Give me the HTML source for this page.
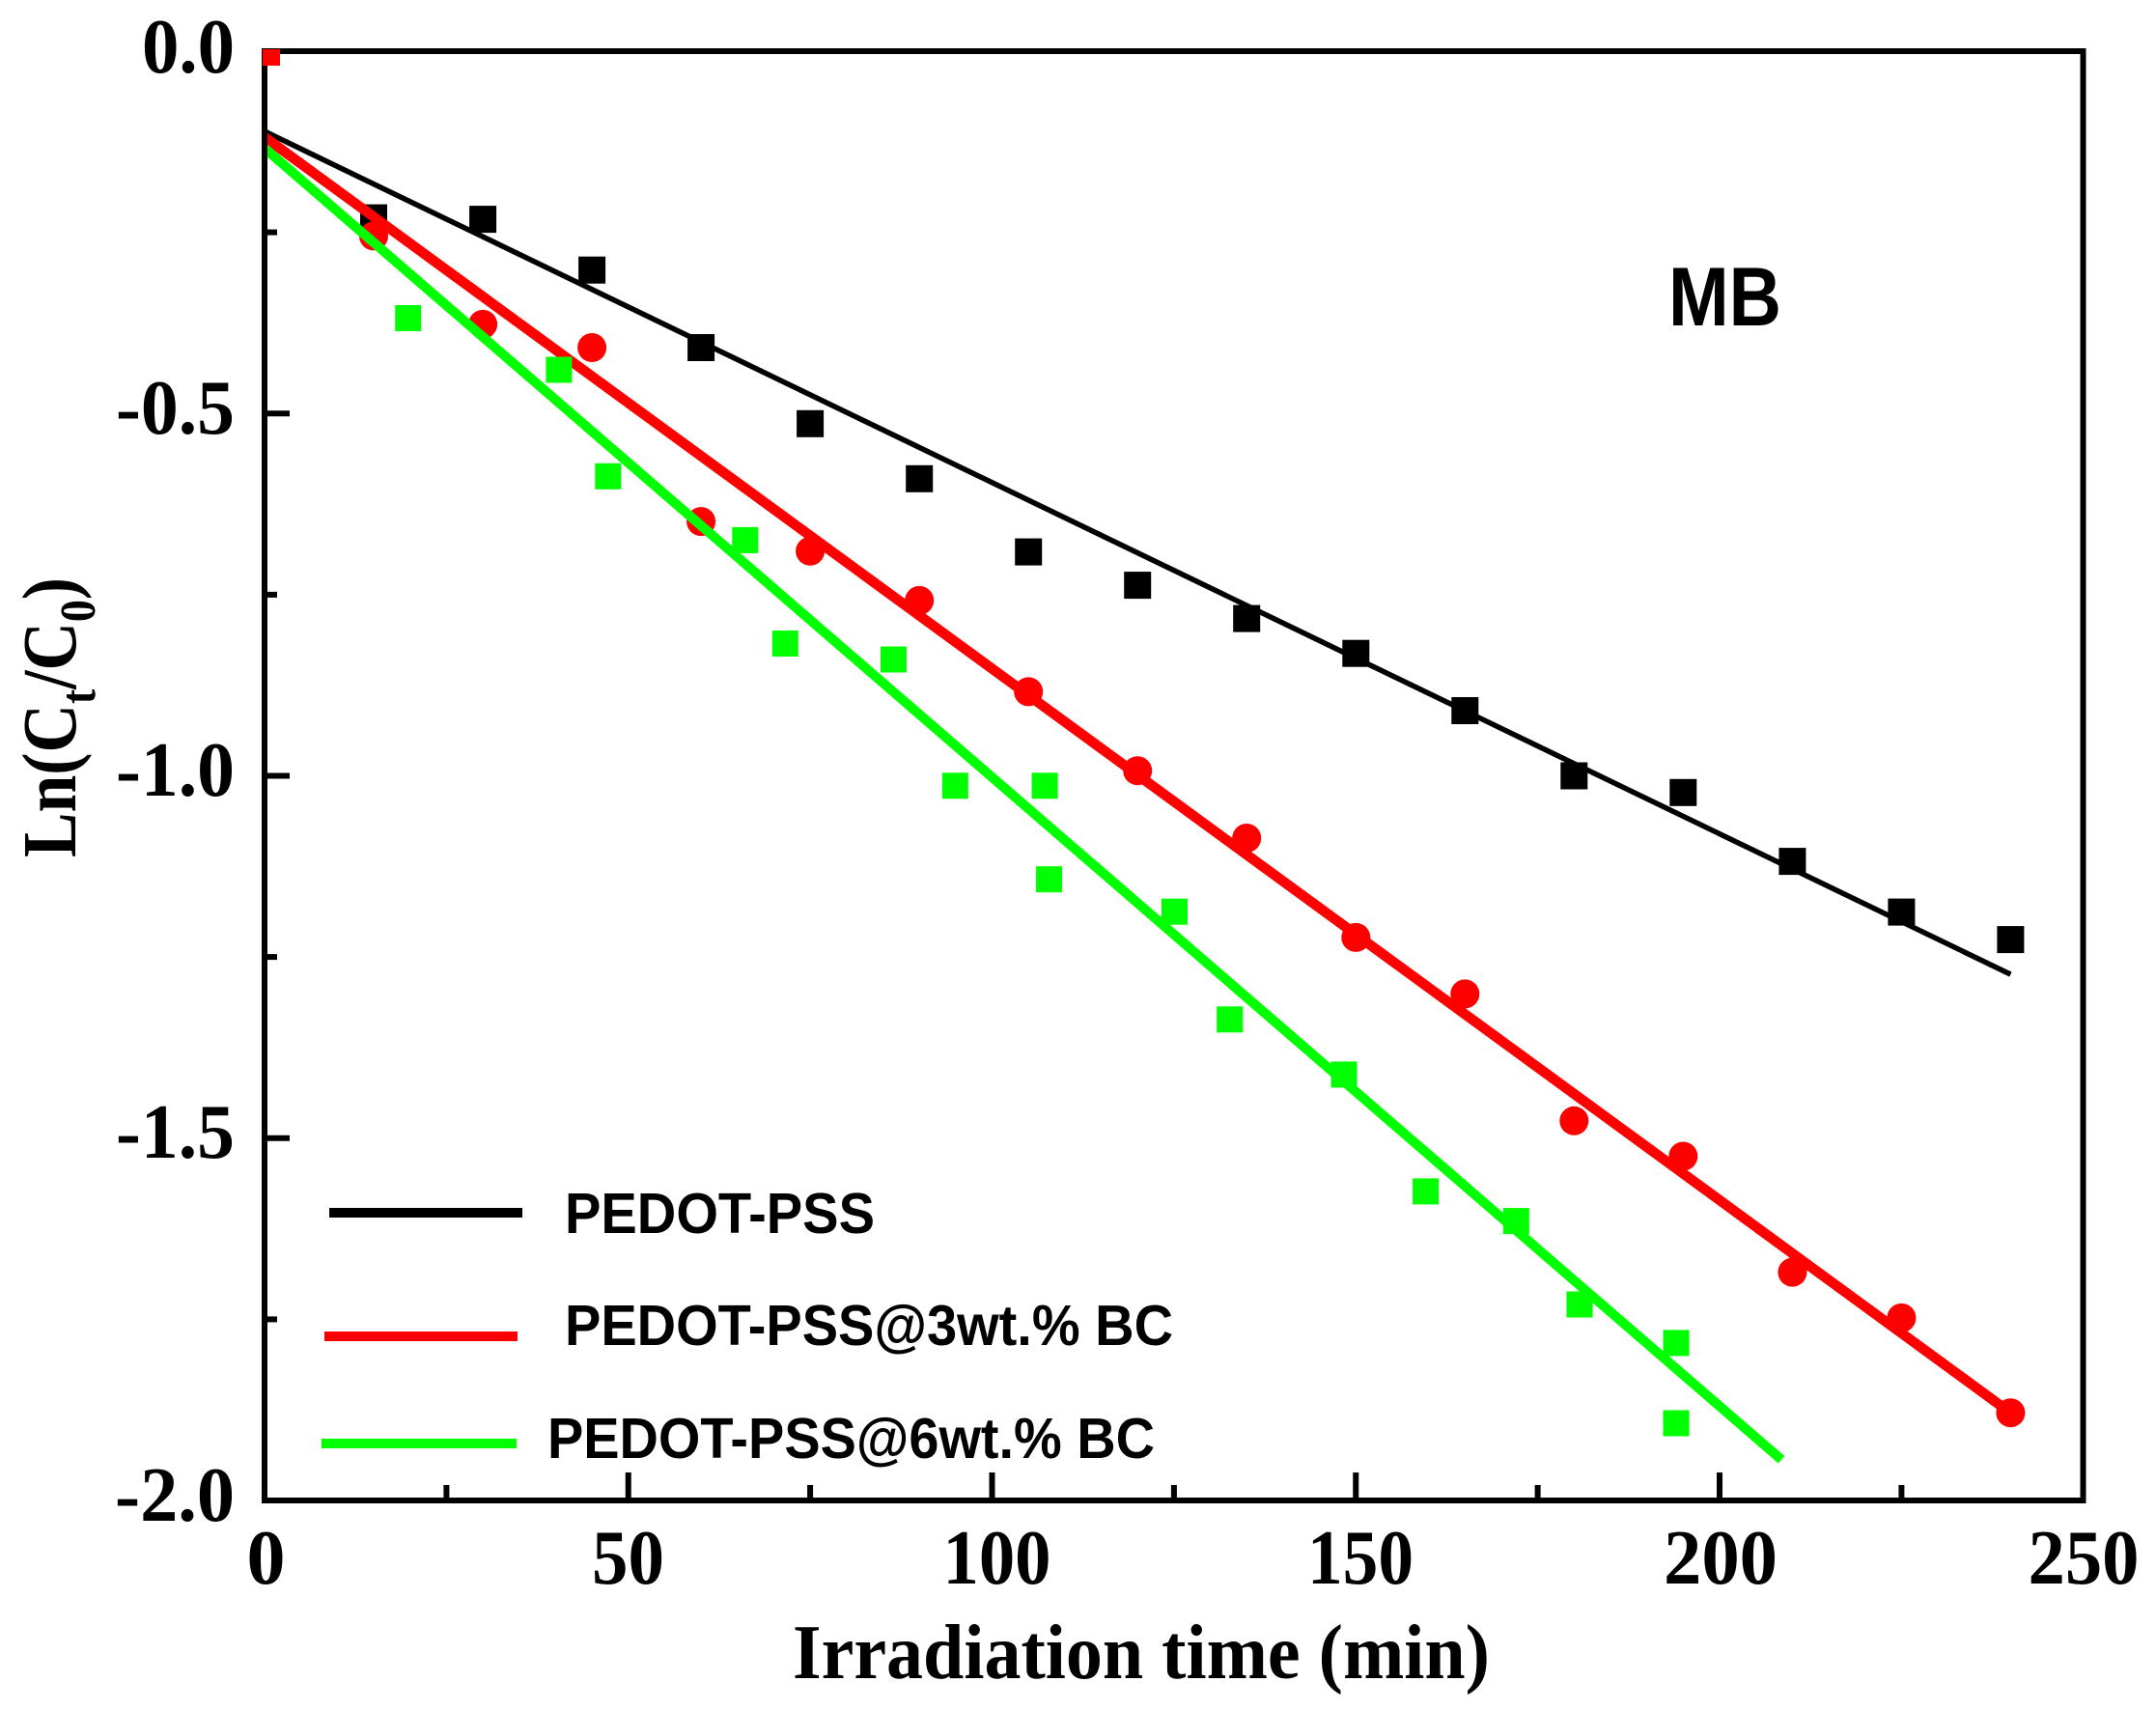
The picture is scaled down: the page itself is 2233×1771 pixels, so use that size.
<!DOCTYPE html>
<html>
<head>
<meta charset="utf-8">
<style>
  html, body { margin: 0; padding: 0; background: #fff; }
  svg { display: block; }
</style>
</head>
<body>
<svg width="2233" height="1771" viewBox="0 0 2233 1771" xmlns="http://www.w3.org/2000/svg">
  <rect x="0" y="0" width="2233" height="1771" fill="#fff"/>

  <!-- black scatter -->
  <g fill="#000">
    <rect x="373" y="211.6" width="28" height="28"/>
    <rect x="486.1" y="213.1" width="28" height="28"/>
    <rect x="599.1" y="265.7" width="28" height="28"/>
    <rect x="712.1" y="346" width="28" height="28"/>
    <rect x="825.1" y="424.8" width="28" height="28"/>
    <rect x="938.2" y="481.8" width="28" height="28"/>
    <rect x="1051.2" y="557.6" width="28" height="28"/>
    <rect x="1164.2" y="592.1" width="28" height="28"/>
    <rect x="1277.2" y="626.6" width="28" height="28"/>
    <rect x="1390.3" y="662.7" width="28" height="28"/>
    <rect x="1503.3" y="722" width="28" height="28"/>
    <rect x="1616.3" y="789.5" width="28" height="28"/>
    <rect x="1729.3" y="806.8" width="28" height="28"/>
    <rect x="1842.4" y="878.1" width="28" height="28"/>
    <rect x="1955.4" y="930.6" width="28" height="28"/>
    <rect x="2068.4" y="959.1" width="28" height="28"/>
  </g>
  <line x1="274" y1="136" x2="2082.4" y2="1009.1" stroke="#000" stroke-width="5.5"/>

  <!-- red scatter -->
  <g fill="#ff0000">
    <circle cx="387" cy="244.4" r="15"/>
    <circle cx="500.1" cy="335.9" r="15"/>
    <circle cx="613.1" cy="360" r="15"/>
    <circle cx="726.1" cy="540.1" r="15"/>
    <circle cx="839.1" cy="570.8" r="15"/>
    <circle cx="952.2" cy="621.9" r="15"/>
    <circle cx="1065.2" cy="716.4" r="15"/>
    <circle cx="1178.2" cy="798.2" r="15"/>
    <circle cx="1291.2" cy="868" r="15"/>
    <circle cx="1404.3" cy="970.9" r="15"/>
    <circle cx="1517.3" cy="1029.4" r="15"/>
    <circle cx="1630.3" cy="1160.8" r="15"/>
    <circle cx="1743.3" cy="1197.5" r="15"/>
    <circle cx="1856.4" cy="1317.6" r="15"/>
    <circle cx="1969.4" cy="1364.9" r="15"/>
    <circle cx="2082.4" cy="1463.2" r="15"/>
  </g>
  <line x1="274" y1="142" x2="2082.4" y2="1463.2" stroke="#ff0000" stroke-width="10.5"/>

  <!-- green scatter -->
  <g fill="#00ff00">
    <rect x="409.2" y="316" width="27" height="27"/>
    <rect x="565.4" y="369.5" width="27" height="27"/>
    <rect x="616.3" y="479.8" width="27" height="27"/>
    <rect x="758.3" y="545.9" width="27" height="27"/>
    <rect x="799.8" y="653" width="27" height="27"/>
    <rect x="911.9" y="669.5" width="27" height="27"/>
    <rect x="975.8" y="800.3" width="27" height="27"/>
    <rect x="1068.6" y="800.3" width="27" height="27"/>
    <rect x="1073.1" y="897.2" width="27" height="27"/>
    <rect x="1203" y="930.7" width="27" height="27"/>
    <rect x="1260.2" y="1042.3" width="27" height="27"/>
    <rect x="1378.5" y="1099.4" width="27" height="27"/>
    <rect x="1463.1" y="1220.4" width="27" height="27"/>
    <rect x="1556.8" y="1251.1" width="27" height="27"/>
    <rect x="1622.5" y="1337.5" width="27" height="27"/>
    <rect x="1722.5" y="1377.4" width="27" height="27"/>
    <rect x="1722.5" y="1460.5" width="27" height="27"/>
  </g>
  <line x1="274" y1="153.5" x2="1845" y2="1511.7" stroke="#00ff00" stroke-width="10"/>

  <!-- frame -->
  <rect x="274" y="53" width="1883.5" height="1501" fill="none" stroke="#000" stroke-width="6"/>

  <!-- red marker at origin -->
  <rect x="272" y="51" width="18" height="17" fill="#ff0000"/>

  <!-- y ticks -->
  <g stroke="#000" stroke-width="6">
    <line x1="274" y1="428.25" x2="300" y2="428.25"/>
    <line x1="274" y1="803.5" x2="300" y2="803.5"/>
    <line x1="274" y1="1178.75" x2="300" y2="1178.75"/>
    <line x1="274" y1="240.6" x2="287" y2="240.6"/>
    <line x1="274" y1="615.9" x2="287" y2="615.9"/>
    <line x1="274" y1="991.1" x2="287" y2="991.1"/>
    <line x1="274" y1="1366.4" x2="287" y2="1366.4"/>
  </g>
  <!-- x ticks -->
  <g stroke="#000" stroke-width="6">
    <line x1="650.75" y1="1554" x2="650.75" y2="1525"/>
    <line x1="1027.5" y1="1554" x2="1027.5" y2="1525"/>
    <line x1="1404.25" y1="1554" x2="1404.25" y2="1525"/>
    <line x1="1781" y1="1554" x2="1781" y2="1525"/>
    <line x1="462.4" y1="1554" x2="462.4" y2="1538"/>
    <line x1="839.1" y1="1554" x2="839.1" y2="1538"/>
    <line x1="1215.9" y1="1554" x2="1215.9" y2="1538"/>
    <line x1="1592.6" y1="1554" x2="1592.6" y2="1538"/>
    <line x1="1969.4" y1="1554" x2="1969.4" y2="1538"/>
  </g>

  <!-- tick labels -->
  <g font-family="'Liberation Serif', 'Times New Roman', serif" font-weight="bold" font-size="81" fill="#000">
    <text x="243" y="75" text-anchor="end" textLength="96" lengthAdjust="spacingAndGlyphs">0.0</text>
    <text x="243" y="449" text-anchor="end" textLength="123" lengthAdjust="spacingAndGlyphs">-0.5</text>
    <text x="243" y="824" text-anchor="end" textLength="123" lengthAdjust="spacingAndGlyphs">-1.0</text>
    <text x="243" y="1199" text-anchor="end" textLength="123" lengthAdjust="spacingAndGlyphs">-1.5</text>
    <text x="243" y="1575" text-anchor="end" textLength="124" lengthAdjust="spacingAndGlyphs">-2.0</text>

    <text x="275.5" y="1640" text-anchor="middle" textLength="40" lengthAdjust="spacingAndGlyphs">0</text>
    <text x="650.5" y="1640" text-anchor="middle" textLength="75" lengthAdjust="spacingAndGlyphs">50</text>
    <text x="1032.5" y="1640" text-anchor="middle" textLength="112" lengthAdjust="spacingAndGlyphs">100</text>
    <text x="1409" y="1640" text-anchor="middle" textLength="110" lengthAdjust="spacingAndGlyphs">150</text>
    <text x="1782" y="1640" text-anchor="middle" textLength="118" lengthAdjust="spacingAndGlyphs">200</text>
    <text x="2158" y="1640" text-anchor="middle" textLength="115" lengthAdjust="spacingAndGlyphs">250</text>
  </g>

  <!-- axis titles -->
  <text x="821" y="1738" font-family="'Liberation Serif', 'Times New Roman', serif" font-weight="bold" font-size="80" fill="#000" textLength="722" lengthAdjust="spacingAndGlyphs">Irradiation time (min)</text>

  <text transform="translate(78,888) rotate(-90)" font-family="'Liberation Serif', 'Times New Roman', serif" font-weight="bold" font-size="79" fill="#000" textLength="290" lengthAdjust="spacingAndGlyphs">Ln(C<tspan font-size="52" dy="20">t</tspan><tspan dy="-20">/C</tspan><tspan font-size="52" dy="20">0</tspan><tspan dy="-20">)</tspan></text>

  <!-- MB label -->
  <text x="1728" y="337" font-family="'Liberation Sans', Arial, sans-serif" font-weight="bold" font-size="86" fill="#000" textLength="117" lengthAdjust="spacingAndGlyphs">MB</text>

  <!-- legend -->
  <line x1="341" y1="1256" x2="541" y2="1256" stroke="#000" stroke-width="10"/>
  <line x1="336" y1="1384" x2="536" y2="1384" stroke="#ff0000" stroke-width="10"/>
  <line x1="333" y1="1495" x2="535" y2="1495" stroke="#00ff00" stroke-width="10"/>
  <g font-family="'Liberation Sans', Arial, sans-serif" font-weight="bold" font-size="59" fill="#000">
    <text x="585" y="1277" textLength="321" lengthAdjust="spacingAndGlyphs">PEDOT-PSS</text>
    <text x="585" y="1393" textLength="630" lengthAdjust="spacingAndGlyphs">PEDOT-PSS@3wt.% BC</text>
    <text x="567" y="1510" textLength="629" lengthAdjust="spacingAndGlyphs">PEDOT-PSS@6wt.% BC</text>
  </g>
</svg>
</body>
</html>
